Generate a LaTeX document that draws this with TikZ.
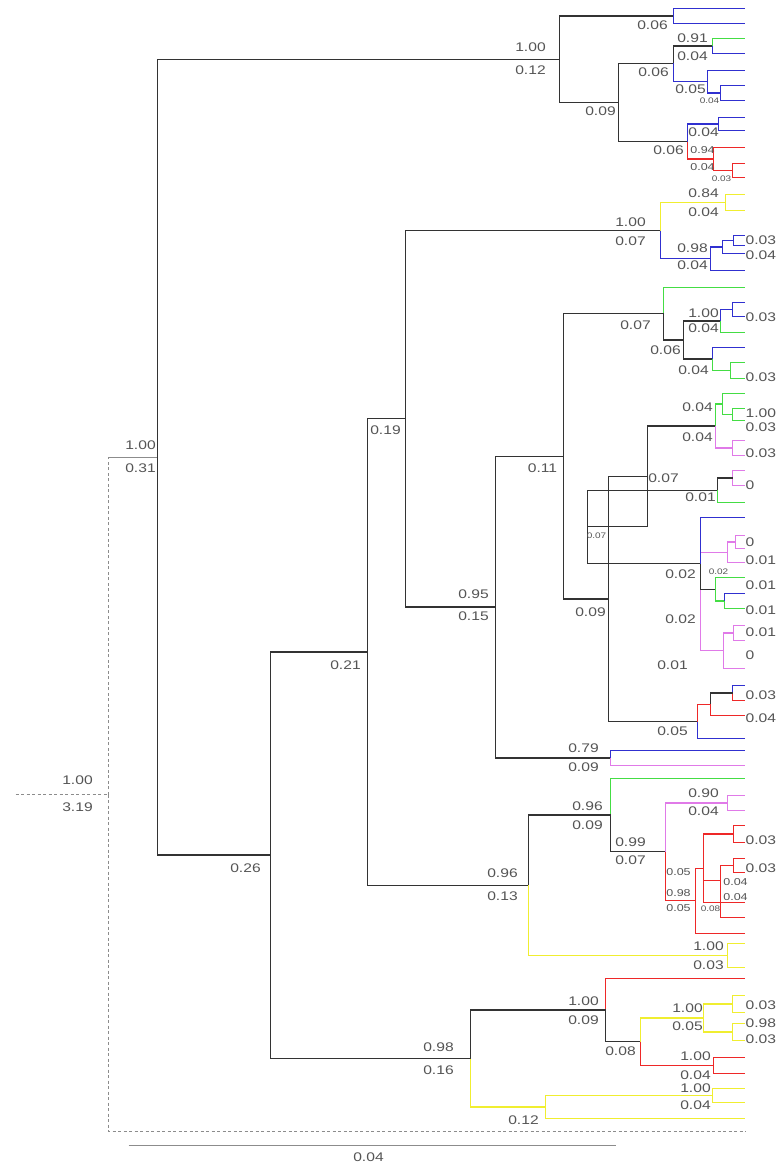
\documentclass[tikz,border=0pt]{standalone}
\usepackage{fontspec}
\setmainfont{Liberation Sans}
\definecolor{cblue}{HTML}{3030D0}
\definecolor{cgreen}{HTML}{44DD44}
\definecolor{cred}{HTML}{EE2828}
\definecolor{cyel}{HTML}{F0EE30}
\definecolor{cpink}{HTML}{E07AE8}
\definecolor{cblk}{HTML}{333333}
\definecolor{labgray}{HTML}{555555}
\definecolor{dashgray}{HTML}{8C8C8C}
\newcommand\sx[1]{\scalebox{1.25}[1]{#1}}
\newcounter{labc}
\newcommand\Lb[3]{\stepcounter{labc}\node[lab] (lab\thelabc) at (#1,#2) {\sx{#3}};}
\newcommand\Lm[3]{\stepcounter{labc}\node[labm] (lab\thelabc) at (#1,#2) {\sx{#3}};}
\newcommand\Ls[3]{\stepcounter{labc}\node[labs] (lab\thelabc) at (#1,#2) {\sx{#3}};}
\newcommand\Lr[2]{\stepcounter{labc}\node[lab,anchor=west] (lab\thelabc) at (745,#1) {\sx{#2}};}
\newcommand\lf[2]{\coordinate (#1) at (744,#2);}
\tikzset{
 lab/.style={font=\fontsize{12.5}{13}\selectfont, text=labgray, inner sep=0pt},
 labm/.style={font=\fontsize{10}{11}\selectfont, text=labgray, inner sep=0pt},
 labs/.style={font=\fontsize{8}{9}\selectfont, text=labgray, inner sep=0pt},
 bk/.style={draw=cblk, line width=1.4pt},
 bl/.style={draw=cblue, line width=1.1pt},
 gr/.style={draw=cgreen, line width=1.1pt},
 rd/.style={draw=cred, line width=1.1pt},
 ye/.style={draw=cyel, line width=1.2pt},
 pk/.style={draw=cpink, line width=1.1pt},
 dsh/.style={draw=dashgray, line width=0.8pt, dash pattern=on 3pt off 2.5pt},
 gln/.style={draw=dashgray, line width=0.9pt},
}
\begin{document}
\begin{tikzpicture}[x=1pt,y=-1pt]
\fill[white] (0,0) rectangle (779,1164);
\useasboundingbox (0,0) rectangle (779,1164);
\begin{scope}[shift={(0.5,0.5)}]
% ---------- coordinates ----------
\coordinate (R0s) at (15,794);
\coordinate (R0) at (108,794);
\coordinate (R0a) at (108,456.6);
\coordinate (R0b) at (108,1131);
\coordinate (OG) at (745,1131);
\coordinate (A) at (157,456.6);
% top clade
\coordinate (B) at (559,58.75);
\coordinate (B1) at (673,15.5); \lf{l1}{8} \lf{l2}{23}
\coordinate (B2) at (618,102);
\coordinate (B2a) at (673,63);
\coordinate (n091) at (712,45.5); \lf{l3}{38} \lf{l4}{53}
\coordinate (n005) at (707,81); \lf{l5}{70}
\coordinate (n004) at (720,92.5); \lf{l6}{85} \lf{l7}{100}
\coordinate (B2b) at (687,141);
\coordinate (nt1) at (718,123.5); \lf{l8}{117} \lf{l9}{130}
\coordinate (n094) at (713,158.5); \lf{l10}{147}
\coordinate (n003) at (732,170); \lf{l11}{163} \lf{l12}{177}
% second clade
\coordinate (C) at (270,854.5);
\coordinate (D) at (367,651.4);
\coordinate (F) at (405,418);
\coordinate (H) at (660,230);
\coordinate (n084) at (725,202); \lf{l13}{194} \lf{l14}{210}
\coordinate (n098) at (710,258);
\coordinate (nx) at (722,246.5);
\coordinate (ny) at (733,240); \lf{l15}{235} \lf{l16}{245} \lf{l17}{253} \lf{l18}{270}
\coordinate (I) at (495,606.6);
\coordinate (J) at (563,455.75);
\coordinate (P) at (663,313); \lf{l19}{287}
\coordinate (Q) at (683,339.5);
\coordinate (n100) at (720,320.5);
\coordinate (nb) at (732,309); \lf{l20}{302} \lf{l21}{316} \lf{l22}{332}
\coordinate (nq2) at (712,358.5); \lf{l23}{347}
\coordinate (ng) at (730,370); \lf{l24}{362} \lf{l25}{378}
\coordinate (K) at (608,598.5);
\coordinate (L) at (647,476);
\coordinate (R) at (715,425.5);
\coordinate (Rg) at (722,403.5); \lf{l26}{393}
\coordinate (Rg2) at (732,414); \lf{l27}{408} \lf{l28}{420}
\coordinate (Rp) at (732,447.5); \lf{l29}{440} \lf{l30}{455}
\coordinate (M) at (587,526);
\coordinate (S) at (717,489.75);
\coordinate (Sp) at (732,477.5); \lf{l31}{470} \lf{l32}{485} \lf{l33}{502}
\coordinate (T) at (700,563); \lf{l34}{517}
\coordinate (Tp) at (727,551.75);
\coordinate (Tp2) at (735,541.5); \lf{l35}{535} \lf{l36}{548} \lf{l37}{562}
\coordinate (Tk) at (715,588.75); \lf{l38}{577}
\coordinate (Tk2) at (724,600.5); \lf{l39}{593} \lf{l40}{608}
\coordinate (Tq) at (723,650.25);
\coordinate (Tq2) at (733,632.5); \lf{l41}{625} \lf{l42}{640} \lf{l43}{668}
\coordinate (U) at (697,721);
\coordinate (U1) at (710,703.75);
\coordinate (U2) at (732,692.5); \lf{l44}{685} \lf{l45}{700} \lf{l46}{715} \lf{l47}{738}
\coordinate (N079) at (610,757.5); \lf{l48}{750} \lf{l49}{765}
\coordinate (G) at (528,884.75);
\coordinate (N096) at (610,814.5); \lf{l50}{778}
\coordinate (N099) at (665,851);
\coordinate (N090) at (727,802.5); \lf{l51}{795} \lf{l52}{810}
\coordinate (n695) at (695,900); \lf{l53}{933}
\coordinate (nr4) at (703,867.75);
\coordinate (nr1) at (733,833.5); \lf{l54}{825} \lf{l55}{842}
\lf{l56}{902}
\coordinate (nr3) at (720,880);
\coordinate (nr2) at (733,865); \lf{l57}{858} \lf{l58}{872} \lf{l59}{917}
\coordinate (N100y) at (727,955); \lf{l60}{943} \lf{l61}{967}
\coordinate (E) at (470,1058);
\coordinate (Nr) at (605,1009.5); \lf{l62}{978}
\coordinate (N08) at (640,1041);
\coordinate (n703) at (703,1017.5);
\coordinate (y1) at (732,1003.5); \lf{l63}{995} \lf{l64}{1012}
\coordinate (y2) at (732,1031.5); \lf{l65}{1023} \lf{l66}{1040}
\coordinate (n713) at (713,1065); \lf{l67}{1057} \lf{l68}{1073}
\coordinate (N012) at (545,1106.5);
\coordinate (y3) at (712,1095); \lf{l69}{1088} \lf{l70}{1102} \lf{l71}{1118}
\coordinate (sb1) at (128,1145);
\coordinate (sb2) at (615,1145);
% ---------- root ----------
\draw[dsh] (R0s) -- (R0);
\draw[dsh] (R0) -- (R0a);
\draw[dsh] (R0) |- (OG);
\draw[gln] (R0a) -- (A);
% ---------- top clade ----------
\draw[bk] (A) |- (B);
\draw[bk] (B) |- (B1); \draw[bl] (B1) |- (l1); \draw[bl] (B1) |- (l2);
\draw[bk] (B) |- (B2);
\draw[bk] (B2) |- (B2a);
\draw[bk] (B2a) |- (n091); \draw[gr] (n091) |- (l3); \draw[bl] (n091) |- (l4);
\draw[bl] (B2a) |- (n005); \draw[bl] (n005) |- (l5); \draw[bl] (n005) |- (n004);
\draw[bl] (n004) |- (l6); \draw[bl] (n004) |- (l7);
\draw[bk] (B2) |- (B2b);
\draw[bl] (B2b) |- (nt1); \draw[bl] (nt1) |- (l8); \draw[bl] (nt1) |- (l9);
\draw[rd] (B2b) |- (n094); \draw[rd] (n094) |- (l10); \draw[rd] (n094) |- (n003);
\draw[rd] (n003) |- (l11); \draw[rd] (n003) |- (l12);
% ---------- second clade ----------
\draw[bk] (A) |- (C);
\draw[bk] (C) |- (D);
\draw[bk] (D) |- (F);
\draw[bk] (F) |- (H);
\draw[ye] (H) |- (n084); \draw[ye] (n084) |- (l13); \draw[ye] (n084) |- (l14);
\draw[bl] (H) |- (n098); \draw[bl] (n098) |- (nx); \draw[bl] (nx) |- (ny);
\draw[bl] (ny) |- (l15); \draw[bl] (ny) |- (l16); \draw[bl] (nx) |- (l17); \draw[bl] (n098) |- (l18);
\draw[bk] (F) |- (I);
\draw[bk] (I) |- (J);
\draw[gr] (P) |- (l19);
\draw[bk] (J) |- (P);
\draw[bk] (P) |- (Q);
\draw[bk] (Q) |- (n100); \draw[bl] (n100) |- (nb); \draw[bl] (nb) |- (l20); \draw[bl] (nb) |- (l21);
\draw[gr] (n100) |- (l22);
\draw[bk] (Q) |- (nq2); \draw[bl] (nq2) |- (l23); \draw[gr] (nq2) |- (ng);
\draw[gr] (ng) |- (l24); \draw[gr] (ng) |- (l25);
\draw[bk] (J) |- (K);
\draw[bk] (K) |- (L);
\draw[bk] (L) |- (R);
\draw[gr] (R) |- (Rg); \draw[gr] (Rg) |- (l26); \draw[gr] (Rg) |- (Rg2);
\draw[gr] (Rg2) |- (l27); \draw[gr] (Rg2) |- (l28);
\draw[pk] (R) |- (Rp); \draw[pk] (Rp) |- (l29); \draw[pk] (Rp) |- (l30);
\draw[bk] (L) |- (M);
\draw[bk] (M) |- (S);
\draw[pk] (Sp) |- (l31); \draw[pk] (Sp) |- (l32); \draw[gr] (S) |- (l33);
\draw[bk] (S) |- (Sp);
\draw[bk] (M) |- (T);
\draw[pk] (T) |- (Tp); \draw[pk] (Tp) |- (Tp2); \draw[pk] (Tp2) |- (l35); \draw[pk] (Tp2) |- (l36);
\draw[pk] (Tp) |- (l37);
\draw[pk] (T) |- (Tq); \draw[pk] (Tq) |- (Tq2); \draw[pk] (Tq2) |- (l41); \draw[pk] (Tq2) |- (l42);
\draw[pk] (Tq) |- (l43);
\draw[bk] (T) |- (Tk); \draw[gr] (Tk) |- (l38); \draw[gr] (Tk) |- (Tk2);
\draw[bl] (Tk2) |- (l39); \draw[gr] (Tk2) |- (l40);
\draw[bl] (T) |- (l34);
\draw[bk] (K) |- (U);
\draw[rd] (U) |- (U1); \draw[bl] (U2) |- (l44); \draw[rd] (U2) |- (l45); \draw[bk] (U1) |- (U2);
\draw[rd] (U1) |- (l46);
\draw[bl] (U) |- (l47);
\draw[bk] (I) |- (N079); \draw[bl] (N079) |- (l48); \draw[pk] (N079) |- (l49);
\draw[bk] (D) |- (G);
\draw[gr] (N096) |- (l50);
\draw[bk] (G) |- (N096);
\draw[bk] (N096) |- (N099);
\draw[pk] (N099) |- (N090); \draw[pk] (N090) |- (l51); \draw[pk] (N090) |- (l52);
\draw[rd] (N099) |- (n695); \draw[rd] (n695) |- (nr4); \draw[rd] (n695) |- (l53);
\draw[rd] (nr4) |- (nr1); \draw[rd] (nr1) |- (l54); \draw[rd] (nr1) |- (l55);
\draw[rd] (nr4) |- (l56);
\draw[rd] (nr4) |- (nr3); \draw[rd] (nr3) |- (nr2); \draw[rd] (nr2) |- (l57); \draw[rd] (nr2) |- (l58);
\draw[rd] (nr3) |- (l59);
\draw[ye] (G) |- (N100y); \draw[ye] (N100y) |- (l60); \draw[ye] (N100y) |- (l61);
\draw[bk] (C) |- (E);
\draw[rd] (Nr) |- (l62);
\draw[bk] (E) |- (Nr);
\draw[bk] (Nr) |- (N08);
\draw[ye] (N08) |- (n703); \draw[ye] (n703) |- (y1); \draw[ye] (y1) |- (l63); \draw[ye] (y1) |- (l64);
\draw[ye] (n703) |- (y2); \draw[ye] (y2) |- (l65); \draw[ye] (y2) |- (l66);
\draw[rd] (N08) |- (n713); \draw[rd] (n713) |- (l67); \draw[rd] (n713) |- (l68);
\draw[ye] (E) |- (N012); \draw[ye] (N012) |- (y3); \draw[ye] (y3) |- (l69); \draw[ye] (y3) |- (l70);
\draw[ye] (N012) |- (l71);
% scale bar
\draw[gln, line width=1.1pt] (sb1) -- (sb2);
% ---------- labels ----------
\Lb{77}{780}{1.00} \Lb{77}{807}{3.19}
\Lb{140}{445}{1.00} \Lb{140}{468}{0.31}
\Lb{530}{47}{1.00} \Lb{530}{70}{0.12}
\Lb{652}{25}{0.06}
\Lb{692}{38}{0.91} \Lb{692}{56}{0.04}
\Lb{653}{72}{0.06}
\Lb{690}{89}{0.05}
\Ls{709}{100}{0.04}
\Lb{600}{111}{0.09}
\Lb{703}{132}{0.04}
\Lb{668}{150}{0.06}
\Lm{702}{150}{0.94} \Lm{702}{167}{0.04}
\Ls{721}{178}{0.03}
\Lb{703}{193}{0.84} \Lb{703}{212}{0.04}
\Lb{630}{222}{1.00} \Lb{630}{241}{0.07}
\Lb{692}{248}{0.98} \Lb{692}{265}{0.04}
\Lr{240}{0.03} \Lr{255}{0.04}
\Lb{635}{325}{0.07}
\Lb{703}{313}{1.00} \Lb{703}{328}{0.04}
\Lr{317}{0.03}
\Lb{665}{350}{0.06}
\Lb{693}{370}{0.04}
\Lr{377}{0.03}
\Lb{697}{407}{0.04} \Lb{697}{437}{0.04}
\Lr{413}{1.00} \Lr{427}{0.03} \Lr{453}{0.03}
\Lb{385}{430}{0.19}
\Lb{542}{468}{0.11}
\Lb{663}{478}{0.07} \Lb{700}{497}{0.01}
\Lr{485}{0}
\Ls{596}{535}{0.07}
\Lb{680}{574}{0.02}
\Ls{718}{571}{0.02}
\Lr{542}{0} \Lr{560}{0.01} \Lr{585}{0.01} \Lr{610}{0.01} \Lr{632}{0.01} \Lr{655}{0}
\Lb{680}{619}{0.02}
\Lb{672}{665}{0.01}
\Lb{590}{612}{0.09}
\Lb{473}{594}{0.95} \Lb{473}{616}{0.15}
\Lb{672}{731}{0.05}
\Lr{695}{0.03} \Lr{718}{0.04}
\Lb{583}{748}{0.79} \Lb{583}{767}{0.09}
\Lb{587}{806}{0.96} \Lb{587}{825}{0.09}
\Lb{703}{793}{0.90} \Lb{703}{811}{0.04}
\Lb{630}{842}{0.99} \Lb{630}{860}{0.07}
\Lr{840}{0.03} \Lr{868}{0.03}
\Lm{678}{872}{0.05} \Lm{678}{893}{0.98} \Lm{678}{908}{0.05}
\Ls{710}{908}{0.08}
\Lm{735}{882}{0.04} \Lm{735}{897}{0.04}
\Lb{502}{873}{0.96} \Lb{502}{896}{0.13}
\Lb{708}{946}{1.00} \Lb{708}{965}{0.03}
\Lb{583}{1001}{1.00} \Lb{583}{1020}{0.09}
\Lb{620}{1051}{0.08}
\Lb{687}{1008}{1.00} \Lb{687}{1026}{0.05}
\Lr{1005}{0.03} \Lr{1023}{0.98} \Lr{1039}{0.03}
\Lb{695}{1056}{1.00} \Lb{695}{1075}{0.04}
\Lb{695}{1088}{1.00} \Lb{695}{1105}{0.04}
\Lb{438}{1047}{0.98} \Lb{438}{1070}{0.16}
\Lb{523}{1120}{0.12}
\Lb{245}{868}{0.26}
\Lb{345}{665}{0.21}
\Lb{368}{1157}{0.04}
\end{scope}
\end{tikzpicture}
\end{document}
